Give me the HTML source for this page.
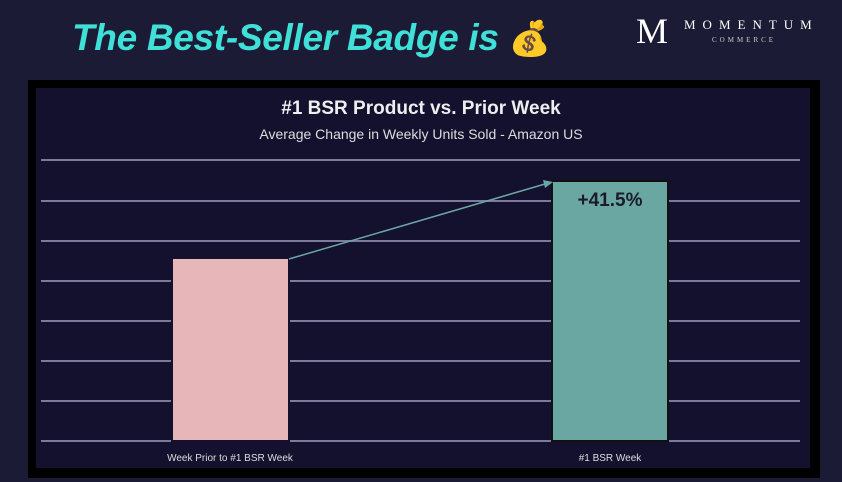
<!DOCTYPE html>
<html><head><style>
body{margin:0;width:842px;height:482px;overflow:hidden;background:#1c1b35;font-family:"Liberation Sans",sans-serif;position:relative}
.t{position:absolute;left:72px;top:17px;font-size:37px;font-weight:bold;font-style:italic;color:#3fe0d8;letter-spacing:-0.3px}
</style></head><body>
<div class="t">The Best-Seller Badge is <span style="font-style:normal;font-size:34px">💰</span></div>
<div style="position:absolute;left:598px;top:14px;width:70px;height:34px;color:#fff;font-family:'Liberation Serif',serif;font-size:36px;text-align:right;line-height:34px">M</div>
<div style="position:absolute;left:684px;top:17px;color:#fff;font-family:'Liberation Serif',serif;font-size:13px;letter-spacing:7px">MOMENTUM</div>
<div style="position:absolute;left:712px;top:36px;color:#ccc;font-family:'Liberation Serif',serif;font-size:7px;letter-spacing:3px">COMMERCE</div>
<div style="position:absolute;left:28px;top:80px;width:792px;height:398px;background:#000"></div>
<div style="position:absolute;left:36px;top:88px;width:774px;height:380px;background:#13112e"></div>
<svg style="position:absolute;left:0;top:0" width="842" height="482">
<g stroke="#7e7a9e" stroke-width="2">
<line x1="41" x2="800" y1="160" y2="160"/><line x1="41" x2="800" y1="201" y2="201"/><line x1="41" x2="800" y1="241" y2="241"/><line x1="41" x2="800" y1="281" y2="281"/><line x1="41" x2="800" y1="321" y2="321"/><line x1="41" x2="800" y1="361" y2="361"/><line x1="41" x2="800" y1="401" y2="401"/><line x1="41" x2="800" y1="441" y2="441"/>
</g>
<rect x="172" y="258" width="117" height="183" fill="#e7b6b8" stroke="#13112e" stroke-width="2"/>
<rect x="552" y="181" width="116" height="260" fill="#6aa7a3" stroke="#111" stroke-width="2"/>
<line x1="289" y1="259" x2="545" y2="184" stroke="#6aa7a3" stroke-width="1.5"/>
<polygon points="553,182 543,180 545,188" fill="#6aa7a3"/>
<text x="610" y="206" text-anchor="middle" font-size="19" font-weight="bold" fill="#1b1b2a">+41.5%</text>
<text x="421" y="114" text-anchor="middle" font-size="19" font-weight="bold" fill="#eee">#1 BSR Product vs. Prior Week</text>
<text x="421" y="139" text-anchor="middle" font-size="14" fill="#ddd">Average Change in Weekly Units Sold - Amazon US</text>
<text x="230" y="461" text-anchor="middle" font-size="10" fill="#ddd">Week Prior to #1 BSR Week</text>
<text x="610" y="461" text-anchor="middle" font-size="10" fill="#ddd">#1 BSR Week</text>
</svg>
</body></html>
